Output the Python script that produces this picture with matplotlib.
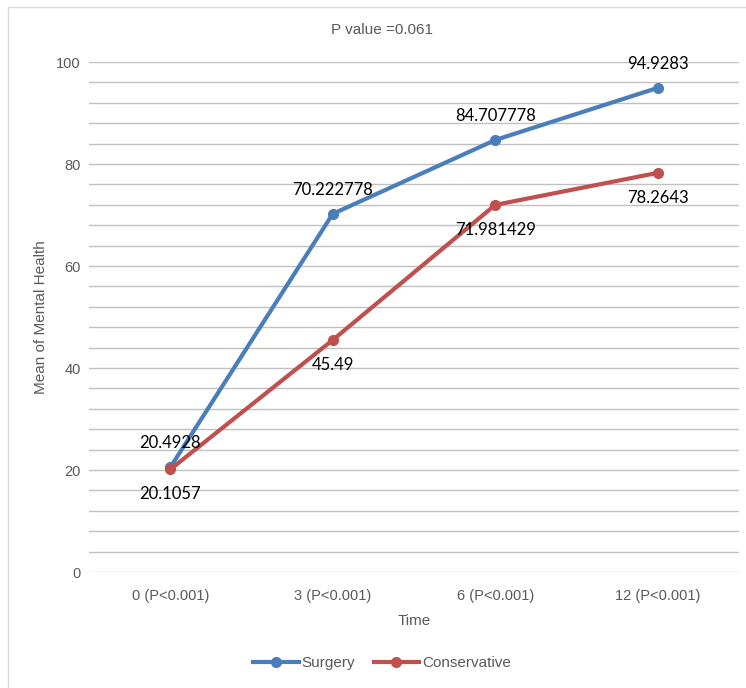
import numpy as np
import matplotlib.pyplot as plt
from matplotlib.patches import Rectangle

time_labels = ["0 (P<0.001)", "3 (P<0.001)", "6 (P<0.001)", "12 (P<0.001)"]
surgery = [20.4928, 70.222778, 84.707778, 94.9283]
conservative = [20.1057, 45.49, 71.981429, 78.2643]
surgery_text = ["20.4928", "70.222778", "84.707778", "94.9283"]
conservative_text = ["20.1057", "45.49", "71.981429", "78.2643"]

blue = "#4a7ebb"
red = "#c0504d"
grid_col = "#c0c0c0"
tick_col = "#595959"
narrow = ["Liberation Sans Narrow", "Liberation Sans", "DejaVu Sans"]

fig = plt.figure(figsize=(7.46, 6.88), dpi=100)
fig.patches.append(Rectangle((8 / 746, -0.01), 1.0, 1 - 7 / 688 + 0.01,
                             transform=fig.transFigure, fill=False,
                             edgecolor="#d9d9d9", linewidth=1))

ax = fig.add_axes([89 / 746, 1 - 572 / 688, 650 / 746, 510 / 688])
x = np.arange(len(time_labels))

ax.plot(x, surgery, color=blue, lw=3, marker="o", ms=7, label="Surgery", zorder=3)
ax.plot(x, conservative, color=red, lw=3, marker="o", ms=7, label="Conservative", zorder=3)

# data labels: surgery above, conservative below
for i in range(len(x)):
    ax.annotate(surgery_text[i], (x[i], surgery[i]), xytext=(0, 24),
                textcoords="offset pixels", ha="center", va="center",
                fontsize=12, family=["Lato", "DejaVu Sans"], color="black")
    ax.annotate(conservative_text[i], (x[i], conservative[i]), xytext=(0, -25),
                textcoords="offset pixels", ha="center", va="center",
                fontsize=12, family=["Lato", "DejaVu Sans"], color="black")

ax.set_xlim(-0.5, 3.5)
ax.set_ylim(0, 100)
ax.set_yticks(np.arange(0, 101, 20))
ax.set_yticks(np.arange(0, 101, 4), minor=True)
ax.set_xticks(x)
ax.set_xticklabels(time_labels)
ax.grid(axis="y", which="both", color=grid_col, lw=1)
ax.set_axisbelow(True)
for sp in ax.spines.values():
    sp.set_visible(False)
ax.tick_params(axis="both", which="both", length=0, colors=tick_col, labelsize=10.5)
ax.tick_params(axis="y", pad=6)
ax.tick_params(axis="x", pad=12)
for lab in ax.get_xticklabels() + ax.get_yticklabels():
    lab.set_family(["Liberation Sans", "DejaVu Sans"])

ax.set_xlabel("Time", color=tick_col, fontsize=11, family=narrow, labelpad=8)
ax.set_ylabel("Mean of Mental Health", color=tick_col, fontsize=11, family=narrow, labelpad=6)

fig.text(382 / 746, 1 - 30 / 688, "P value =0.061", ha="center", va="center",
         color=tick_col, fontsize=11, family=narrow)

leg = fig.legend(loc="center", bbox_to_anchor=(382 / 746, 1 - 663 / 688), ncol=2,
                 frameon=False, handlelength=3, columnspacing=1.2, handletextpad=0.2,
                 prop={"family": narrow, "size": 11})
for t in leg.get_texts():
    t.set_color(tick_col)

plt.savefig("out.png", dpi=100)
plt.close()
